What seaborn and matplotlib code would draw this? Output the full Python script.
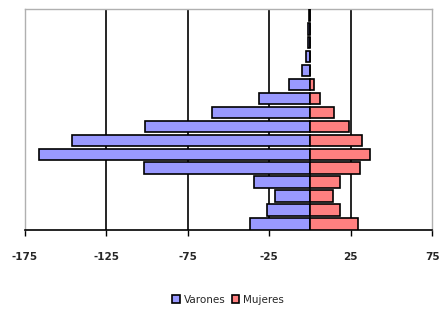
import pandas as pd
import numpy as np
import matplotlib.pyplot as plt
import seaborn as sns

# grupos de edad, de mayor (arriba) a menor (abajo)
grupos = ["75+", "70-74", "65-69", "60-64", "55-59", "50-54", "45-49", "40-44",
          "35-39", "30-34", "25-29", "20-24", "15-19", "10-14", "5-9", "0-4"]
varones = [-0.5, -1, -1, -2.5, -5, -13, -31.5, -60, -101, -146, -166, -101.5,
           -34, -21.5, -26.5, -36.5]
mujeres = [0, 0, 0, 0, 0, 2.5, 6.5, 15, 24, 32, 37, 30.5, 18.5, 14.5, 18.5, 29.5]
ticks = [-175, -125, -75, -25, 25, 75]

df = pd.DataFrame({
    "grupo": grupos * 2,
    "sexo": ["Varones"] * len(grupos) + ["Mujeres"] * len(grupos),
    "valor": varones + mujeres,
})

sns.set_style("white")
plt.rcParams["font.family"] = ["DejaVu Sans"]

fig = plt.figure(figsize=(4.4, 3.09), dpi=100)
ax = fig.add_axes([0.056, 0.256, 0.926, 0.715])

w = 0.83
# lineas de division solo en los ticks interiores
for x in ticks[1:-1]:
    ax.axvline(x, color="black", lw=1.2, zorder=0)

sns.barplot(data=df, x="valor", y="grupo", hue="sexo", order=grupos,
            dodge=False, orient="h", width=w, saturation=1, errorbar=None,
            palette={"Varones": "#9999FF", "Mujeres": "#FF8080"},
            edgecolor="black", linewidth=1.2, ax=ax)
for p in ax.patches:
    p.set_zorder(3)

ax.set_xlim(-175, 75)
ax.set_ylim(len(grupos) - 1 + w / 2, -w / 2)
ax.set_xticks(ticks)
ax.set_xticklabels([str(t) for t in ticks], fontsize=7.5, fontweight="bold")
ax.tick_params(axis="x", direction="out", length=4, width=1, color="black", pad=12,
               bottom=True)
ax.set_yticks([])
ax.set_xlabel("")
ax.set_ylabel("")
for s in ["top", "right", "left"]:
    ax.spines[s].set_color("#B0B0B0")
    ax.spines[s].set_linewidth(1)
ax.spines["bottom"].set_color("black")
ax.spines["bottom"].set_linewidth(1.2)

ax.legend(loc="upper center", bbox_to_anchor=(0.5, -0.25), ncol=2, frameon=False,
          fontsize=7.5, handlelength=0.7, handleheight=0.7, handletextpad=0.4,
          columnspacing=0.6)

fig.savefig("out.png", dpi=100)
plt.close()
